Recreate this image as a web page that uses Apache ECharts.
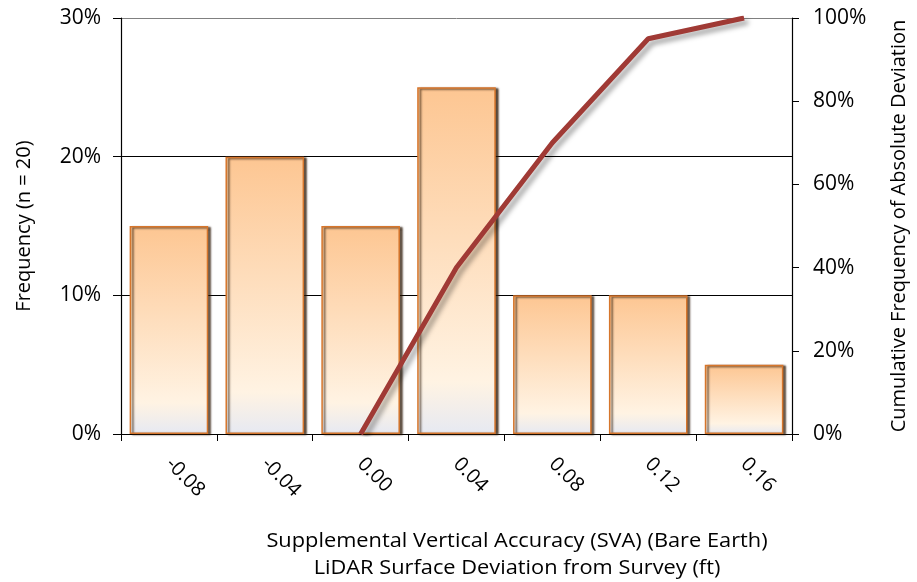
<!DOCTYPE html>
<html><head><meta charset="utf-8">
<script src="https://cdn.jsdelivr.net/npm/echarts@6/dist/echarts.min.js"></script>
<style>html,body{margin:0;padding:0;background:#fff}#c{width:917px;height:582px}</style>
</head><body><div id="c"></div>
<script>
const categories = ['-0.08','-0.04','0.00','0.04','0.08','0.12','0.16'];
const frequency = [15, 20, 15, 25, 10, 10, 5];
const cumulative = [null, null, 0, 40, 70, 95, 100];
const leftTicks = [0, 10, 20, 30];
const rightTicks = [0, 20, 40, 60, 80, 100];
const FONT = 'Open Sans';
const chart = echarts.init(document.getElementById('c'));
chart.setOption({
  animation: false,
  grid: {left: 121, right: 121, top: 18, bottom: 148},
  xAxis: {
    type: 'category', data: categories,
    axisLine: {lineStyle: {color: '#000', width: 1.2}},
    axisTick: {show: true, alignWithLabel: false, length: 7, lineStyle: {color: '#000'}},
    axisLabel: {rotate: -45, margin: 27, color: '#000', fontSize: 20, fontFamily: FONT}
  },
  yAxis: [{
    type: 'value', min: 0, max: 30, interval: 10,
    name: 'Frequency (n = 20)', nameLocation: 'middle', nameGap: 87, nameRotate: 90,
    nameTextStyle: {fontSize: 20, color: '#000', fontFamily: FONT},
    axisLine: {show: true, lineStyle: {color: '#000', width: 1.2}},
    axisTick: {show: true, length: 8, lineStyle: {color: '#000'}},
    axisLabel: {formatter: v => v + '%', margin: 20, color: '#000', fontSize: 21, fontFamily: FONT},
    splitLine: {show: true, lineStyle: {color: ['#000','#000','#000','#808080'], width: 1}}
  }, {
    type: 'value', min: 0, max: 100, interval: 20,
    name: 'Cumulative Frequency of Absolute Deviation', nameLocation: 'middle', nameGap: 97, nameRotate: 90,
    nameTextStyle: {fontSize: 20, color: '#000', fontFamily: FONT},
    axisLine: {show: true, lineStyle: {color: '#000', width: 1.2}},
    axisTick: {show: true, length: 7, lineStyle: {color: '#000'}},
    axisLabel: {formatter: v => v + '%', margin: 21, color: '#000', fontSize: 21, fontFamily: FONT},
    splitLine: {show: false}
  }],
  graphic: [{
    type: 'text', x: 517, y: 528, scaleX: 1.09, originX: 0, originY: 0,
    style: {text: 'Supplemental Vertical Accuracy (SVA) (Bare Earth)\nLiDAR Surface Deviation from Survey (ft)',
      align: 'center', textAlign: 'center', fill: '#000', fontSize: 20, lineHeight: 27, fontFamily: FONT}
  }],
  series: [{
    type: 'bar', data: frequency, barWidth: '82%',
    itemStyle: {
      color: new echarts.graphic.LinearGradient(0, 0, 0, 1, [
        {offset: 0, color: '#fdc692'},
        {offset: 0.85, color: '#fff3e3'},
        {offset: 1, color: '#e6e9f2'}
      ]),
      borderColor: '#d6762c', borderWidth: 1.5,
      shadowColor: 'rgba(40,20,0,0.75)', shadowOffsetX: 2.5, shadowOffsetY: 1, shadowBlur: 2
    }
  }, {
    type: 'line', yAxisIndex: 1, data: cumulative, symbol: 'none', connectNulls: false,
    lineStyle: {color: '#a03a35', width: 5, shadowColor: 'rgba(0,0,0,0.35)', shadowBlur: 5, shadowOffsetX: 4, shadowOffsetY: 4}
  }]
});
</script></body></html>
